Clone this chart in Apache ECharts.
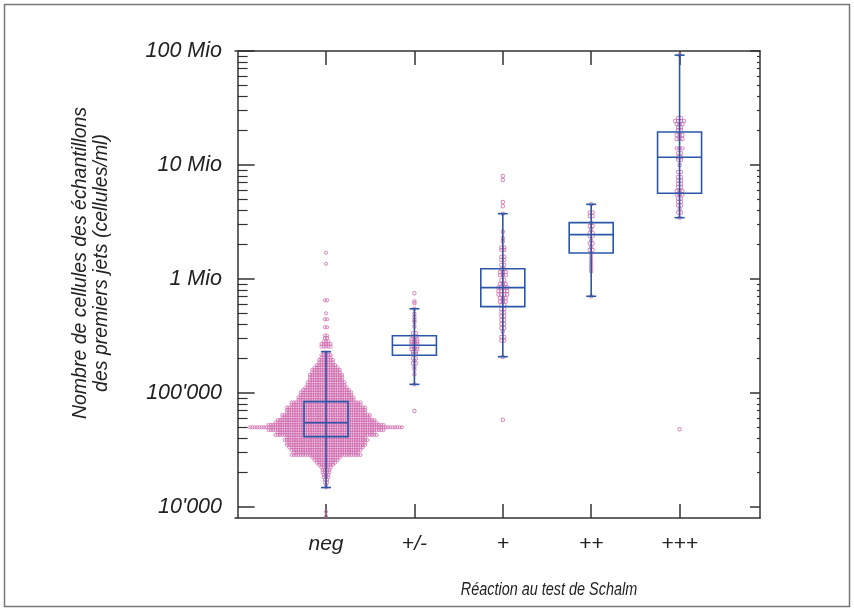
<!DOCTYPE html>
<html><head><meta charset="utf-8">
<script src="https://cdn.jsdelivr.net/npm/echarts@6/dist/echarts.min.js"></script>
<style>html,body{margin:0;padding:0;background:#fff}#c{width:854px;height:612px}</style>
</head><body><div id="c"></div>
<script>
// ---------- data ----------
const categories = ['neg', '+/-', '+', '++', '+++'];
const yTickValues = [1e4, 1e5, 1e6, 1e7, 1e8];
const yTickLabels = ["10'000", "100'000", "1 Mio", "10 Mio", "100 Mio"];

// box statistics: [lower whisker, Q1, median, Q3, upper whisker]
const boxNeg       = [14800, 41400, 54800, 84000, 230000];
const boxPlusMinus = [119000, 214000, 262000, 318000, 548000];
const boxPlus      = [208000, 572000, 840000, 1230000, 3740000];
const boxPlus2     = [705000, 1690000, 2450000, 3120000, 4520000];
const boxPlus3     = [3450000, 5650000, 11700000, 19500000, 92000000];

// "neg" group: dense dot rows (value of the row, number of samples in it)
const negRowValues = [8300, 9100, 14800, 15600, 16400, 17300, 18200, 19100, 20100, 21100, 22200, 23400, 24500, 25800, 27200,
  28600, 30100, 31600, 33300, 35000, 36800, 38700, 40700, 42800, 45100, 47300, 50000, 52400, 55100, 57900, 60900,
  64100, 67400, 70900, 74600, 78500, 82600, 86800, 91300, 96100, 101000, 106000, 112000, 117000, 124000, 130000,
  137000, 144000, 151000, 159000, 167000, 176000, 185000, 195000, 205000, 215000, 227000,
  255000, 269000, 283000, 303000, 319000, 377000, 443000, 500000, 650000, 1360000, 1700000];
const negRowCounts = [1, 1, 1, 1, 2, 2, 3, 3, 4, 4, 5, 7, 9, 11, 13,
  31, 29, 31, 33, 35, 35, 37, 35, 45, 43, 51, 67, 51, 45, 43, 39,
  39, 35, 35, 35, 31, 31, 25, 25, 23, 23, 21, 19, 17, 17, 15,
  15, 15, 13, 13, 11, 9, 7, 7, 5, 5, 3,
  5, 5, 3, 2, 2, 2, 2, 1, 2, 1, 1];

const plusMinusValues = [750000, 635000, 612000, 548000, 493000, 461000, 437000, 420000, 383000, 334000, 334000,
  312000, 312000, 296000, 296000, 296000, 282000, 282000, 282000, 269000, 269000, 269000, 255000, 255000, 255000,
  242000, 242000, 242000, 230000, 230000, 220000, 220000, 201000, 201000, 191000, 182000, 182000, 170000, 161000,
  146000, 119000, 69500];

const plusValues = [8020000, 7390000, 4730000, 4340000, 3740000, 2600000, 2280000, 2130000, 1890000, 1890000,
  1800000, 1800000, 1570000, 1570000, 1470000, 1470000, 1330000, 1330000, 1220000, 1220000, 1150000, 1150000, 1150000,
  1080000, 1080000, 1080000, 980000, 980000, 904000, 904000, 904000, 841000, 841000, 841000, 841000,
  785000, 785000, 785000, 785000, 731000, 731000, 731000, 731000, 681000, 681000, 681000, 635000, 635000, 635000,
  592000, 592000, 546000, 546000, 508000, 508000, 474000, 474000, 437000, 437000, 403000, 403000, 372000, 372000,
  346000, 310000, 310000, 289000, 289000, 207000, 58300];

const plus2Values = [4520000, 3830000, 3830000, 3570000, 3570000, 3100000, 2920000, 2920000, 2750000, 2530000, 2530000,
  2380000, 2380000, 2180000, 2050000, 2050000, 1910000, 1800000, 1800000, 1660000, 1530000, 1420000, 1330000,
  1250000, 1170000, 705000];

const plus3Values = [92200000, 25800000, 25800000, 24300000, 24300000, 24300000, 24300000, 22900000, 22900000, 22900000,
  21300000, 21300000, 20300000, 20300000, 18300000, 18300000, 18300000, 16900000, 16900000, 16900000,
  14000000, 14000000, 14000000, 12700000, 12700000, 11700000, 11700000, 11100000, 11100000, 10000000,
  8680000, 8680000, 7850000, 7850000, 7310000, 7310000, 6810000, 6810000, 6410000, 6410000,
  5910000, 5910000, 5910000, 5510000, 5510000, 5510000, 5080000, 5080000, 4730000, 4730000, 4420000, 4420000,
  4110000, 3830000, 3830000, 3450000, 48100];

// ---------- layout / style ----------
const GRID = {left: 235, top: 51, width: 525, height: 467};
const X_MIN = -0.03, X_MAX = 5.91;
const PX_PER_UNIT = GRID.width / (X_MAX - X_MIN);
const DOT_COLOR = '#cf68ad';
const BOX_COLOR = '#2a57a8';
const AXIS_COLOR = '#333';
const FONT = '"Liberation Sans", Arial, Helvetica, sans-serif';

function rowsOf(values) {
  const m = new Map();
  values.forEach(v => m.set(v, (m.get(v) || 0) + 1));
  return Array.from(m.entries());
}
function pushRows(out, g, rows, spacing) {
  rows.forEach(([v, n]) => {
    for (let i = 0; i < n; i++) {
      const off = (i - (n - 1) / 2) * spacing;
      out.push([g + off / PX_PER_UNIT, v]);
    }
  });
}
const negDots = [];
pushRows(negDots, 1, negRowValues.map((v, i) => [v, negRowCounts[i]]), 2.3);
const otherDots = [];
pushRows(otherDots, 2, rowsOf(plusMinusValues), 2.9);
pushRows(otherDots, 3, rowsOf(plusValues), 2.9);
pushRows(otherDots, 4, rowsOf(plus2Values), 2.9);
pushRows(otherDots, 5, rowsOf(plus3Values), 2.9);

const boxes = [boxNeg, boxPlusMinus, boxPlus, boxPlus2, boxPlus3].map((b, i) => [i + 1].concat(b));

const minorTicks = [];
for (let d = 4; d < 8; d++) for (let k = 2; k <= 9; k++) minorTicks.push(k * Math.pow(10, d));

function renderBox(params, api) {
  const g = api.value(0);
  const pl = api.coord([g, api.value(1)]);
  const p1 = api.coord([g, api.value(2)]);
  const pm = api.coord([g, api.value(3)]);
  const p3 = api.coord([g, api.value(4)]);
  const ph = api.coord([g, api.value(5)]);
  const x = pm[0], hw = 22, cw = 5;
  const st = {stroke: BOX_COLOR, lineWidth: 1.6, fill: null};
  return {type: 'group', children: [
    {type: 'line', shape: {x1: x, y1: pl[1], x2: x, y2: ph[1]}, style: st},
    {type: 'line', shape: {x1: x - cw, y1: pl[1], x2: x + cw, y2: pl[1]}, style: st},
    {type: 'line', shape: {x1: x - cw, y1: ph[1], x2: x + cw, y2: ph[1]}, style: st},
    {type: 'rect', shape: {x: x - hw, y: p3[1], width: 2 * hw, height: p1[1] - p3[1]}, style: st},
    {type: 'line', shape: {x1: x - hw, y1: pm[1], x2: x + hw, y2: pm[1]}, style: st}
  ]};
}

const yCommon = {type: 'log', logBase: 10, min: 8000, max: 1e8, splitLine: {show: false},
  axisLabel: {show: false}, axisLine: {show: false}};
const xCommon = {type: 'value', min: X_MIN, max: X_MAX, splitLine: {show: false}};
const xTickPos = [1, 2, 3, 4, 5];

const chart = echarts.init(document.getElementById('c'), null, {renderer: 'canvas'});
chart.setOption({
  animation: false,
  backgroundColor: '#fff',
  grid: GRID,
  xAxis: [
    Object.assign({}, xCommon, {position: 'bottom',
      axisLine: {show: true, lineStyle: {color: AXIS_COLOR, width: 1.5}},
      axisTick: {show: true, inside: true, length: 14, customValues: xTickPos, lineStyle: {color: AXIS_COLOR, width: 1.5}},
      axisLabel: {show: true, customValues: xTickPos, margin: 16, formatter: v => categories[Math.round(v) - 1] || '',
        fontFamily: FONT, fontStyle: 'italic', fontSize: 21, color: '#222'}}),
    Object.assign({}, xCommon, {position: 'top',
      axisLine: {show: true, lineStyle: {color: AXIS_COLOR, width: 1.5}},
      axisTick: {show: true, inside: true, length: 14, customValues: xTickPos, lineStyle: {color: AXIS_COLOR, width: 1.5}},
      axisLabel: {show: false}})
  ],
  yAxis: [
    Object.assign({}, yCommon, {position: 'left',
      axisLine: {show: true, lineStyle: {color: AXIS_COLOR, width: 1.5}},
      axisTick: {show: true, inside: true, length: 17, customValues: yTickValues, lineStyle: {color: AXIS_COLOR, width: 1.5}},
      axisLabel: {show: true, customValues: yTickValues, margin: 13,
        formatter: v => yTickLabels[Math.round(Math.log10(v)) - 4] || '',
        fontFamily: FONT, fontStyle: 'italic', fontSize: 21.5, color: '#222'}}),
    Object.assign({}, yCommon, {position: 'left',
      axisTick: {show: true, inside: true, length: 10, customValues: minorTicks, lineStyle: {color: AXIS_COLOR, width: 1.2}}}),
    Object.assign({}, yCommon, {position: 'right',
      axisLine: {show: true, lineStyle: {color: AXIS_COLOR, width: 1.5}},
      axisTick: {show: true, inside: true, length: 10, customValues: yTickValues, lineStyle: {color: AXIS_COLOR, width: 1.5}}}),
    Object.assign({}, yCommon, {position: 'right',
      axisTick: {show: true, inside: true, length: 3, customValues: minorTicks, lineStyle: {color: AXIS_COLOR, width: 1.2}}})
  ],
  graphic: [
    {type: 'rect', shape: {x: 4.5, y: 4.5, width: 845, height: 602}, style: {fill: null, stroke: '#777', lineWidth: 1.5}, silent: true},
    {type: 'text', x: 81, y: 263, rotation: Math.PI / 2,
      style: {text: 'Nombre de cellules des échantillons', font: 'italic 19.5px ' + FONT, fill: '#222', align: 'center', verticalAlign: 'middle'}},
    {type: 'text', x: 102, y: 263, rotation: Math.PI / 2,
      style: {text: 'des premiers jets (cellules/ml)', font: 'italic 19.5px ' + FONT, fill: '#222', align: 'center', verticalAlign: 'middle'}},
    {type: 'text', x: 549, y: 590, scaleX: 0.78,
      style: {text: 'Réaction au test de Schalm', font: 'italic 18.5px ' + FONT, fill: '#222', align: 'center', verticalAlign: 'middle'}}
  ],
  series: [
    {type: 'scatter', xAxisIndex: 0, yAxisIndex: 0, data: negDots, symbol: 'circle', symbolSize: 3.1, silent: true,
      itemStyle: {color: 'rgba(0,0,0,0)', borderColor: DOT_COLOR, borderWidth: 1}, z: 2},
    {type: 'scatter', xAxisIndex: 0, yAxisIndex: 0, data: otherDots, symbol: 'circle', symbolSize: 3.4, silent: true,
      itemStyle: {color: 'rgba(0,0,0,0)', borderColor: DOT_COLOR, borderWidth: 1}, z: 2},
    {type: 'custom', xAxisIndex: 0, yAxisIndex: 0, data: boxes, renderItem: renderBox, silent: true, z: 3, clip: false}
  ]
});
</script></body></html>
